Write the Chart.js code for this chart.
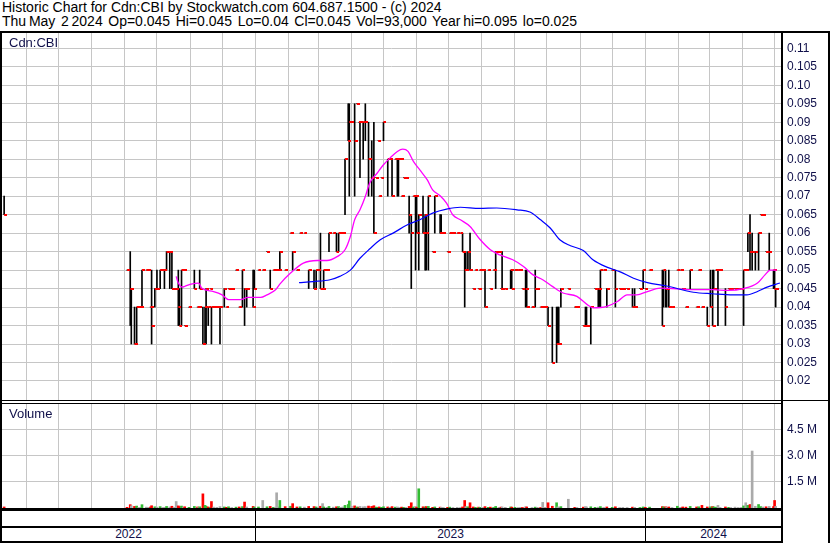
<!DOCTYPE html>
<html>
<head>
<meta charset="utf-8">
<script src="https://cdn.jsdelivr.net/npm/chart.js@4.4.1/dist/chart.umd.min.js"></script>
<style>
  body { margin: 0; background: #fff; font-family: Arial, "Liberation Sans", sans-serif; }
  #page { position: relative; width: 830px; height: 543px; overflow: hidden; background: #fff; }
  .txt { position: absolute; white-space: pre; font-size: 14px; line-height: 15px; color: #000; }
  .lbl { position: absolute; white-space: pre; font-size: 13px; color: #10104a; }
  .yr { position: absolute; top: 527px; height: 14px; line-height: 14px; font-size: 12px; text-align: center; color: #10104a; }
  .k { position: absolute; background: #000; }
  canvas { position: absolute; }
</style>
</head>
<body>
<div id="page">
  <div class="txt" style="left:2px;top:0px">Historic Chart for Cdn:CBI by Stockwatch.com 604.687.1500 - (c) 2024</div>
  <div class="txt" style="left:2px;top:14px;word-spacing:-1.1px">Thu May  2 2024  Op=0.045  Hi=0.045  Lo=0.04  Cl=0.045  Vol=93,000  Year hi=0.095  lo=0.025</div>

  <canvas id="price" width="828" height="367" style="left:2px;top:33px"></canvas>
  <canvas id="vol" width="828" height="104" style="left:2px;top:404px"></canvas>

  <div class="lbl" style="left:9px;top:35px">Cdn:CBI</div>
  <div class="lbl" style="left:9px;top:406px">Volume</div>

  <!-- frame -->
  <div class="k" style="left:0;top:31px;width:830px;height:2px"></div>
  <div class="k" style="left:0;top:31px;width:2px;height:512px"></div>
  <div class="k" style="left:781px;top:31px;width:2px;height:512px"></div>
  <div class="k" style="left:828px;top:31px;width:2px;height:512px"></div>
  <div class="k" style="left:0;top:400px;width:830px;height:1px"></div>
  <div class="k" style="left:0;top:403px;width:781px;height:1px"></div>
  <div class="k" style="left:0;top:508px;width:781px;height:3px"></div>
  <div class="k" style="left:0;top:526px;width:781px;height:2px"></div>
  <div class="k" style="left:0;top:541px;width:781px;height:2px"></div>
  <div class="k" style="left:255px;top:511px;width:1px;height:30px"></div>
  <div class="k" style="left:645px;top:511px;width:1px;height:30px"></div>

  <div class="yr" style="left:2px;width:253px">2022</div>
  <div class="yr" style="left:256px;width:389px">2023</div>
  <div class="yr" style="left:646px;width:135px">2024</div>
</div>

<script>
// days counted from 1 Jan 2022 (day 0)
const days = [
  130,245,248,249,252,254,256,258,259,263,
  265,267,268,271,273,276,278,280,282,285,
  287,289,291,293,294,296,298,299,303,308,
  311,312,313,316,318,319,321,323,324,326,
  329,332,336,338,340,343,347,350,353,355,
  357,363,364,368,372,376,379,382,384,385,
  387,388,393,398,400,404,407,411,415,420,
  422,424,426,428,429,432,434,438,441,443,
  445,447,449,452,453,455,458,460,462,463,
  466,468,471,474,476,478,480,481,483,485,
  489,491,493,496,498,499,501,502,504,506,
  509,511,513,515,516,518,522,524,525,527,
  531,533,538,539,541,545,547,550,554,557,
  559,561,562,564,566,569,571,574,575,578,
  580,583,585,588,590,593,595,596,599,604,
  605,608,611,613,615,618,619,624,627,629,
  632,634,636,639,643,647,648,649,651,658,
  664,666,672,674,675,679,683,686,687,688,
  691,694,699,702,706,709,713,718,720,725,
  728,730,734,746,747,749,750,752,755,760,
  763,765,768,772,778,780,783,788,791,793,
  794,796,798,800,805,808,810,814,817,820,
  822,824,826,828,830,833,836,838,840,843,
  846,850,851,852
];
const highs = [
  .07,.05,.055,.045,.04,.04,.04,.04,.05,.05,
  .05,.04,.05,.045,.05,.05,.05,.05,.055,.055,
  .055,.045,.045,.05,.045,.05,.05,.035,.04,.05,
  .04,.04,.05,.04,.04,.045,.04,.045,.04,.04,
  .04,.04,.045,.04,.045,.045,.05,.04,.05,.045,
  .045,.05,.05,.05,.05,.055,.05,.05,.05,.05,
  .05,.055,.05,.06,.055,.05,.06,.06,.05,.05,
  .05,.05,.06,.045,.05,.05,.06,.06,.06,.06,
  .06,.06,.08,.095,.095,.09,.095,.095,.09,.09,
  .09,.095,.09,.085,.09,.075,.085,.07,.075,.09,
  .08,.08,.08,.08,.08,.08,.08,.07,.075,.075,
  .07,.065,.07,.07,.07,.065,.07,.065,.065,.07,
  .055,.07,.065,.065,.06,.055,.06,.06,.06,.06,
  .06,.055,.055,.055,.06,.045,.05,.045,.05,.05,
  .05,.05,.045,.05,.055,.055,.045,.055,.045,.05,
  .05,.05,.05,.05,.045,.05,.05,.04,.05,.045,
  .04,.04,.04,.04,.04,.04,.04,.04,.045,.045,
  .04,.04,.035,.04,.04,.04,.045,.045,.045,.05,
  .05,.045,.05,.05,.045,.045,.045,.045,.045,.045,
  .05,.045,.05,.05,.05,.05,.045,.05,.04,.05,
  .05,.045,.04,.05,.04,.05,.04,.04,.05,.05,
  .05,.05,.05,.05,.045,.045,.045,.045,.045,.045,
  .05,.05,.06,.065,.06,.055,.06,.065,.065,.055,
  .06,.05,.05,.045
];
const lows = [
  .065,.05,.035,.03,.03,.03,.04,.04,.04,.05,
  .05,.04,.03,.04,.045,.045,.05,.045,.05,.045,
  .045,.045,.045,.035,.035,.035,.05,.035,.04,.045,
  .04,.04,.045,.03,.03,.03,.035,.045,.03,.04,
  .04,.03,.04,.04,.045,.045,.05,.04,.04,.035,
  .04,.04,.045,.05,.05,.055,.045,.05,.05,.05,
  .05,.05,.05,.06,.05,.05,.06,.06,.045,.045,
  .045,.05,.045,.045,.045,.05,.055,.06,.055,.055,
  .06,.06,.065,.085,.07,.09,.07,.095,.09,.075,
  .08,.085,.07,.07,.06,.075,.085,.07,.075,.085,
  .07,.08,.07,.08,.07,.07,.08,.07,.075,.075,
  .06,.045,.07,.05,.06,.05,.06,.05,.05,.05,
  .055,.06,.06,.06,.06,.055,.06,.06,.06,.06,
  .055,.04,.05,.05,.05,.045,.05,.045,.05,.05,
  .04,.05,.045,.05,.045,.055,.045,.045,.045,.045,
  .045,.05,.05,.05,.045,.04,.04,.04,.04,.045,
  .04,.04,.04,.035,.025,.025,.03,.03,.04,.045,
  .04,.04,.035,.035,.035,.03,.045,.04,.04,.04,
  .05,.04,.05,.04,.045,.045,.045,.04,.04,.045,
  .045,.045,.05,.035,.04,.04,.04,.04,.04,.05,
  .05,.045,.04,.045,.04,.05,.04,.035,.04,.035,
  .045,.05,.035,.05,.035,.045,.045,.045,.045,.045,
  .035,.05,.055,.05,.05,.05,.05,.065,.065,.055,
  .05,.045,.045,.04
];
const closes = [
  .065,.05,.045,.045,.03,.04,.04,.04,.05,.05,
  .05,.04,.035,.045,.045,.05,.05,.05,.055,.055,
  .045,.045,.045,.04,.035,.05,.05,.035,.04,.045,
  .04,.04,.045,.03,.04,.045,.04,.045,.04,.04,
  .04,.04,.045,.04,.045,.045,.05,.04,.05,.045,
  .045,.04,.045,.05,.05,.055,.045,.05,.05,.05,
  .05,.055,.05,.06,.055,.05,.06,.06,.05,.045,
  .05,.05,.045,.045,.05,.05,.06,.06,.055,.06,
  .06,.06,.08,.085,.09,.09,.085,.095,.09,.09,
  .09,.09,.08,.075,.06,.075,.085,.07,.075,.09,
  .08,.08,.07,.08,.08,.08,.08,.07,.075,.075,
  .065,.06,.07,.07,.06,.065,.06,.065,.06,.07,
  .055,.07,.06,.06,.06,.055,.06,.06,.06,.06,
  .055,.05,.05,.055,.05,.045,.05,.045,.05,.05,
  .04,.05,.045,.05,.055,.055,.045,.045,.045,.05,
  .045,.05,.05,.05,.045,.045,.04,.04,.045,.045,
  .04,.04,.04,.035,.025,.03,.03,.03,.045,.045,
  .04,.04,.035,.035,.035,.04,.045,.045,.045,.05,
  .05,.045,.05,.045,.045,.045,.045,.04,.04,.045,
  .05,.045,.05,.035,.05,.045,.045,.04,.04,.05,
  .05,.045,.04,.05,.04,.05,.04,.035,.04,.035,
  .045,.05,.05,.05,.04,.045,.045,.045,.045,.045,
  .05,.05,.06,.055,.055,.055,.06,.065,.065,.055,
  .055,.05,.045,.045
];
// volume, thousands of shares
const volK = [
  60,40,190,120,90,110,30,40,190,50,
  40,60,130,70,50,80,30,40,90,60,
  100,40,370,120,80,110,50,70,40,90,
  60,30,70,810,150,100,60,40,370,50,
  40,80,60,40,70,30,50,60,80,340,
  60,90,50,60,430,70,90,40,50,870,
  60,430,80,100,250,60,70,50,90,80,
  60,40,100,250,60,40,90,50,70,80,
  40,60,150,200,400,100,120,60,50,90,
  70,80,110,90,130,50,40,60,40,70,
  60,40,80,50,60,40,30,50,40,30,
  90,300,60,80,50,1100,70,60,80,90,
  40,60,50,40,30,40,50,30,40,30,
  60,430,80,70,300,60,40,50,40,30,
  80,40,50,30,90,40,50,60,40,60,
  50,40,30,40,30,70,60,30,50,40,
  30,320,40,300,100,300,60,50,80,500,
  40,30,50,80,60,70,40,50,40,80,
  30,60,40,70,30,40,30,50,40,30,
  60,40,50,80,60,70,50,60,30,100,
  40,60,50,90,60,70,150,60,70,80,
  60,50,150,40,60,40,30,50,30,40,
  120,300,150,200,3260,100,200,80,60,70,
  90,80,430,93
];

// moving averages
const maShortDays = [291,293,297,299,306,312,315,326,334,340,351,358,370,376,384,388,398,410,423,432,
  442,449,454,458,463,468,472,479,485,491,498,503,508,513,519,526,531,538,544,550,
  557,566,575,585,594,606,616,625,634,643,653,666,676,681,694,704,713,722,732,744,
  756,775,793,807,822,835,842,847,853];
const maShort = [.0483,.0465,.0454,.0456,.0463,.0465,.0451,.0442,.0433,.042,.042,.0426,.0426,.0433,.0447,.0462,.0492,.0519,.0526,.0526,
  .0537,.0555,.0591,.0636,.0663,.0699,.0735,.0762,.0785,.0803,.0821,.0827,.0821,.0794,.0771,.0744,.0717,.0701,.0681,.0649,
  .0636,.0618,.0584,.0555,.0541,.0528,.051,.0487,.0474,.0456,.0438,.0429,.0406,.0398,.0402,.0415,.0433,.0433,.0442,.0451,
  .045,.0447,.0447,.0445,.045,.0465,.0487,.05,.05];
const maLongDays = [406,419,435,444,454,463,472,482,494,507,519,531,544,557,575,591,610,622,632,641,
  650,660,672,681,694,706,719,732,750,775,793,812,825,835,844,856];
const maLong = [.0466,.0469,.0474,.0483,.05,.0532,.0557,.0582,.06,.0622,.0636,.0654,.0665,.067,.0667,.0668,.0663,.0657,.0636,.0614,
  .0582,.0566,.0553,.0528,.0508,.0496,.0478,.0466,.0457,.044,.0436,.0433,.0433,.0442,.0454,.0465];

// first day of each month, for the vertical grid
const monthStarts = [151,181,212,243,273,304,334,365,396,424,455,485,516,546,577,608,638,669,699,730,761,790,821,851];
const priceTicks = [0.02,0.025,0.03,0.035,0.04,0.045,0.05,0.055,0.06,0.065,0.07,0.075,0.08,0.085,0.09,0.095,0.10,0.105,0.11];
const volTicks = [1500, 3000, 4500];

Chart.defaults.font.family = 'Arial, "Liberation Sans", sans-serif';
Chart.defaults.font.size = 12;
Chart.defaults.color = '#10104a';

const gridColor = '#c6c6c6';

// small red tick drawn to the right of each bar at the close
const closeTick = document.createElement('canvas');
closeTick.width = 6; closeTick.height = 2;
const tc = closeTick.getContext('2d');
tc.fillStyle = '#ff0000';
tc.fillRect(3, 0, 3, 2);

function xScale() {
  return {
    type: 'linear', min: 128, max: 857, offset: false,
    grid: { color: gridColor, drawTicks: false, offset: false },
    border: { display: false },
    ticks: { display: false },
    afterBuildTicks: ax => { ax.ticks = monthStarts.map(v => ({ value: v })); }
  };
}

function noPad(s) {
  s.width = 49;
  s.paddingTop = 0;
  s.paddingBottom = 0;
}

new Chart(document.getElementById('price'), {
  type: 'line',
  data: {
    datasets: [
      {
        type: 'bar', order: 3,
        data: days.map((d, i) => ({ x: d, y: [lows[i], highs[i]] })),
        backgroundColor: '#000', barThickness: 1, borderSkipped: false
      },
      {
        type: 'scatter', order: 2,
        data: days.map((d, i) => ({ x: d, y: closes[i] })),
        pointStyle: closeTick, pointRadius: 2, showLine: false
      },
      {
        type: 'line', order: 1,
        data: maShortDays.map((d, i) => ({ x: d, y: maShort[i] })),
        borderColor: '#ff00ff', borderWidth: 1.3, pointRadius: 0, cubicInterpolationMode: 'monotone'
      },
      {
        type: 'line', order: 0,
        data: maLongDays.map((d, i) => ({ x: d, y: maLong[i] })),
        borderColor: '#0000ff', borderWidth: 1.2, pointRadius: 0, cubicInterpolationMode: 'monotone'
      }
    ]
  },
  options: {
    responsive: false, animation: false,
    layout: { padding: 0, autoPadding: false },
    plugins: { legend: { display: false }, tooltip: { enabled: false } },
    scales: {
      x: xScale(),
      y: {
        position: 'right', min: 0.01486, max: 0.11414,
        grid: { color: gridColor, drawTicks: false },
        border: { display: false },
        ticks: {
          padding: 6,
          callback: v => {
            const m = Math.round(v * 1000);
            return m % 10 === 0 ? (m / 1000).toFixed(2) : (m / 1000).toFixed(3);
          }
        },
        afterBuildTicks: ax => { ax.ticks = priceTicks.map(v => ({ value: v })); },
        afterFit: noPad
      }
    }
  }
});

const volColors = closes.map((c, i) => {
  if (i === 0 || c < closes[i - 1]) return '#ff0000';
  if (c > closes[i - 1]) return '#33bb33';
  return '#aaaaaa';
});

new Chart(document.getElementById('vol'), {
  type: 'bar',
  data: {
    datasets: [{
      data: days.map((d, i) => ({ x: d, y: volK[i] })),
      backgroundColor: volColors, barThickness: 2
    }]
  },
  options: {
    responsive: false, animation: false,
    layout: { padding: 0, autoPadding: false },
    plugins: { legend: { display: false }, tooltip: { enabled: false } },
    scales: {
      x: xScale(),
      y: {
        position: 'right', min: 0, max: 5950,
        grid: { color: gridColor, drawTicks: false },
        border: { display: false },
        ticks: { padding: 6, callback: v => (v / 1000).toFixed(1) + ' M' },
        afterBuildTicks: ax => { ax.ticks = volTicks.map(v => ({ value: v })); },
        afterFit: noPad
      }
    }
  }
});
</script>
</body>
</html>
